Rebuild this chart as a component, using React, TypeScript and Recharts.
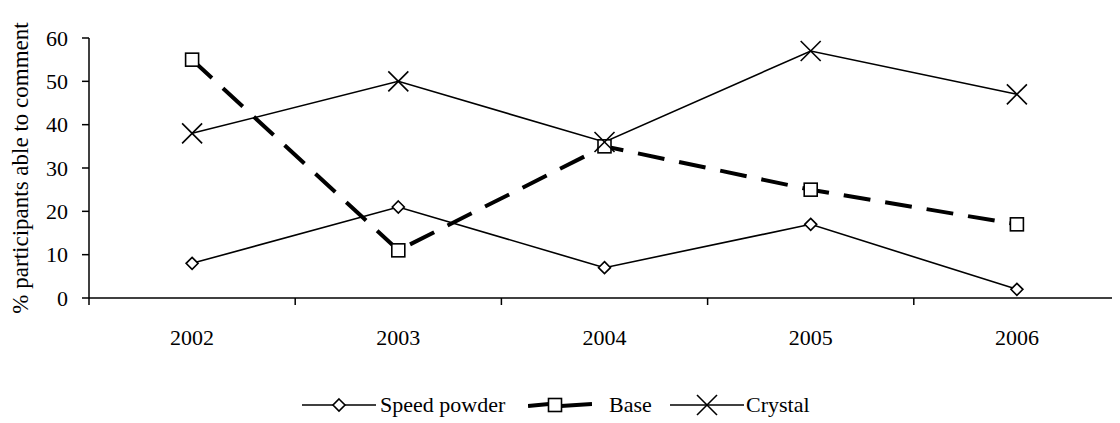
import React from 'react';
import { ComposedChart, Line, XAxis, YAxis } from 'recharts';

const years = ['2002', '2003', '2004', '2005', '2006'];
const speedPowder = [8, 21, 7, 17, 2];
const base = [55, 11, 35, 25, 17];
const crystal = [38, 50, 36, 57, 47];
const yTicks = [0, 10, 20, 30, 40, 50, 60];

const data = years.map((y, i) => ({
  pos: i + 0.5,
  year: y,
  speed: speedPowder[i],
  base: base[i],
  crystal: crystal[i],
}));

const xTicks: number[] = [];
for (let i = 0; i <= years.length; i++) {
  xTicks.push(i);
  if (i < years.length) xTicks.push(i + 0.5);
}

const FONT = "'Liberation Serif', 'DejaVu Serif', serif";

type MarkerKind = 'diamond' | 'square' | 'cross';

const Marker = ({ kind, cx, cy }: { kind: MarkerKind; cx: number; cy: number }) => {
  if (kind === 'diamond') {
    return (
      <path
        d={`M${cx},${cy - 6} L${cx + 6},${cy} L${cx},${cy + 6} L${cx - 6},${cy} Z`}
        fill="#fff"
        stroke="#000"
        strokeWidth={1.6}
      />
    );
  }
  if (kind === 'square') {
    return (
      <rect x={cx - 6.5} y={cy - 6.5} width={13} height={13} fill="#fff" stroke="#000" strokeWidth={1.6} />
    );
  }
  return (
    <g stroke="#000" strokeWidth={1.6}>
      <line x1={cx - 10} y1={cy - 10} x2={cx + 10} y2={cy + 10} />
      <line x1={cx - 10} y1={cy + 10} x2={cx + 10} y2={cy - 10} />
    </g>
  );
};

const makeDot = (kind: MarkerKind) => (props: any) => {
  const { cx, cy, index } = props;
  if (cx == null || cy == null) return <g key={`n-${kind}-${index}`} />;
  return (
    <g key={`${kind}-${index}`}>
      <Marker kind={kind} cx={cx} cy={cy} />
    </g>
  );
};

const XTick = (props: any) => {
  const { x, y, payload } = props;
  const v = payload.value as number;
  if (Number.isInteger(v)) {
    return <line x1={x} y1={y} x2={x} y2={y + 7} stroke="#000" strokeWidth={1.5} />;
  }
  const idx = Math.floor(v);
  return (
    <text x={x} y={y + 47} textAnchor="middle" style={{ fontFamily: FONT }} fontSize={22} fill="#000">
      {years[idx]}
    </text>
  );
};

const YTick = (props: any) => {
  const { x, y, payload } = props;
  return (
    <text x={x} y={y} textAnchor="end" dominantBaseline="central" style={{ fontFamily: FONT }} fontSize={22} fill="#000">
      {payload.value}
    </text>
  );
};

const YLabel = (props: any) => {
  const vb = props.viewBox || { x: 0, y: 30, width: 81, height: 260 };
  const cx = vb.x + 12;
  const cy = vb.y + vb.height / 2;
  return (
    <text
      x={cx}
      y={cy}
      transform={`rotate(-90 ${cx} ${cy})`}
      textAnchor="middle"
      dominantBaseline="central"
      style={{ fontFamily: FONT }}
      fontSize={23}
      fill="#000"
    >
      % participants able to comment
    </text>
  );
};

const series = [
  { key: 'speed', name: 'Speed powder', kind: 'diamond' as MarkerKind, width: 1.6, dash: undefined as string | undefined },
  { key: 'base', name: 'Base', kind: 'square' as MarkerKind, width: 4, dash: '27 15' },
  { key: 'crystal', name: 'Crystal', kind: 'cross' as MarkerKind, width: 1.6, dash: undefined as string | undefined },
];

const legendLayout = [
  { left: 294, lineW: 74, textGap: 4 },
  { left: 520, lineW: 64, textGap: 17 },
  { left: 662, lineW: 74, textGap: 2 },
];

const LegendItem = ({ s, layout }: any) => {
  const h = 24;
  const mid = h / 2;
  const cx = layout.lineW / 2;
  return (
    <div style={{ position: 'absolute', left: layout.left, top: 0, display: 'flex', alignItems: 'center' }}>
      <svg width={layout.lineW} height={h} style={{ display: 'block' }}>
        {s.dash ? (
          <g stroke="#000" strokeWidth={s.width}>
            <line x1={0} y1={mid + 1} x2={cx - 11} y2={mid - 1} />
            <line x1={cx + 1} y1={mid + 1} x2={layout.lineW} y2={mid - 1} />
          </g>
        ) : (
          <line x1={0} y1={mid} x2={layout.lineW} y2={mid} stroke="#000" strokeWidth={s.width} />
        )}
        <Marker kind={s.kind} cx={s.dash ? cx - 5 : cx} cy={mid} />
      </svg>
      <span style={{ marginLeft: layout.textGap, fontFamily: FONT, fontSize: 22, lineHeight: '24px', color: '#000' }}>
        {s.name}
      </span>
    </div>
  );
};

export default function App() {
  return (
    <div style={{ position: 'relative', width: 1112, height: 415, background: '#fff', fontFamily: FONT }}>
      <ComposedChart width={1112} height={360} data={data} margin={{ top: 30, right: 0, left: 0, bottom: 0 }} style={{ fontFamily: FONT }}>
        <XAxis
          dataKey="pos"
          type="number"
          domain={[0, years.length]}
          ticks={xTicks}
          interval={0}
          tickLine={false}
          tickSize={0}
          tickMargin={0}
          tick={<XTick />}
          axisLine={{ stroke: '#000', strokeWidth: 1.5 }}
          height={70}
        />
        <YAxis
          domain={[0, 60]}
          ticks={yTicks}
          interval={0}
          width={81}
          tickSize={7}
          tickMargin={14}
          tickLine={{ stroke: '#000', strokeWidth: 1.5 }}
          axisLine={{ stroke: '#000', strokeWidth: 1.5 }}
          tick={<YTick />}
          label={<YLabel />}
        />
        {series.map((s) => (
          <Line
            key={s.key}
            dataKey={s.key}
            name={s.name}
            type="linear"
            stroke="#000"
            strokeWidth={s.width}
            strokeDasharray={s.dash}
            dot={makeDot(s.kind)}
            activeDot={false}
            isAnimationActive={false}
          />
        ))}
      </ComposedChart>
      <div style={{ position: 'absolute', left: 0, top: 385, width: 1112, height: 24 }}>
        {series.map((s, i) => (
          <LegendItem key={s.key} s={s} layout={legendLayout[i]} />
        ))}
      </div>
    </div>
  );
}
